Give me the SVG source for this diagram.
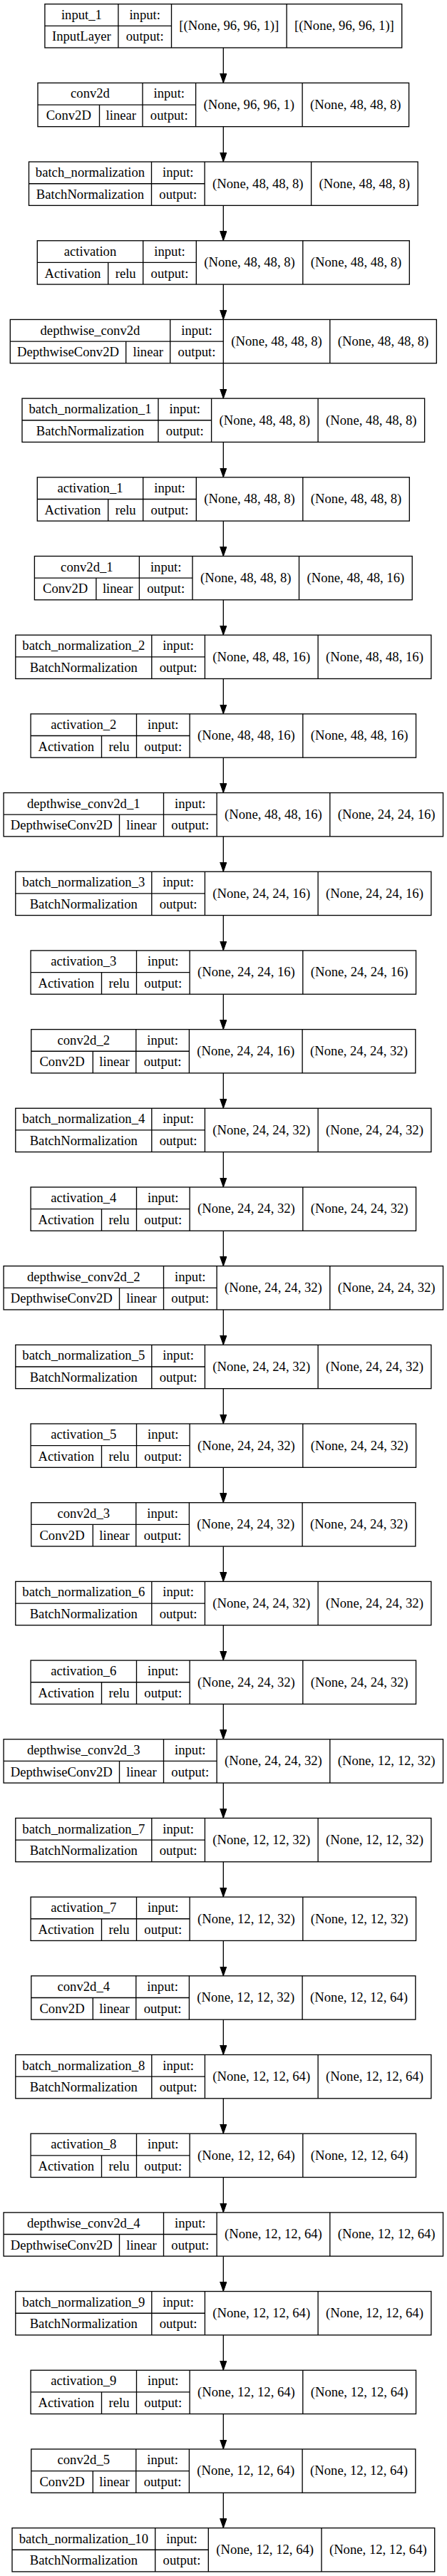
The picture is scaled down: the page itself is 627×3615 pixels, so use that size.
<svg xmlns="http://www.w3.org/2000/svg" xmlns:xlink="http://www.w3.org/1999/xlink" width="627" height="3615" viewBox="0 0 627 3615">
<style>
.b{fill:#fff;stroke:#000;stroke-width:1.33}
.l{fill:none;stroke:#000;stroke-width:1.33}
.e{fill:none;stroke:#000;stroke-width:1.33}
text{font-family:"Liberation Serif","Times New Roman",serif;font-size:18.67px;text-anchor:middle;fill:#000}
</style>
<defs>
<marker id="ah" markerUnits="userSpaceOnUse" markerWidth="14" markerHeight="10" refX="13.3" refY="4.67" orient="auto">
<path d="M0,0 L13.3,4.67 L0,9.33 z" fill="#000" stroke="#000" stroke-width="1"/>
</marker>
<path id="p_in" class="l" d="M103 0V61.3M177.6 0V61.3M339.2 0V61.3M0 30.65H177.6"/>
<path id="p_c11" class="l" d="M147 0V61.3M221.6 0V61.3M371.1 0V61.3M0 30.65H221.6M86.5 30.65V61.3"/>
<path id="p_c22" class="l" d="M147 0V61.3M221.6 0V61.3M380.3 0V61.3M0 30.65H221.6M86.5 30.65V61.3"/>
<path id="p_b0" class="l" d="M172 0V61.3M246.6 0V61.3M396.1 0V61.3M0 30.65H246.6"/>
<path id="p_b11" class="l" d="M191 0V61.3M265.6 0V61.3M415.1 0V61.3M0 30.65H265.6"/>
<path id="p_b22" class="l" d="M191 0V61.3M265.6 0V61.3M424.3 0V61.3M0 30.65H265.6"/>
<path id="p_b10" class="l" d="M200.7 0V61.3M275.3 0V61.3M434 0V61.3M0 30.65H275.3"/>
<path id="p_a11" class="l" d="M148.4 0V61.3M223 0V61.3M372.5 0V61.3M0 30.65H223M99.4 30.65V61.3"/>
<path id="p_a22" class="l" d="M148.4 0V61.3M223 0V61.3M381.7 0V61.3M0 30.65H223M99.4 30.65V61.3"/>
<path id="p_d11" class="l" d="M224.4 0V61.3M299 0V61.3M448.5 0V61.3M0 30.65H299M162.4 30.65V61.3"/>
<path id="p_d22" class="l" d="M224.4 0V61.3M299 0V61.3M457.7 0V61.3M0 30.65H299M162.4 30.65V61.3"/>
</defs>
<rect width="627" height="3615" fill="#fff"/>
<g id="edges">
<path class="e" marker-end="url(#ah)" d="M313.3 67V116.39"/>
<path class="e" marker-end="url(#ah)" d="M313.3 177.69V227.07"/>
<path class="e" marker-end="url(#ah)" d="M313.3 288.37V337.76"/>
<path class="e" marker-end="url(#ah)" d="M313.3 399.06V448.44"/>
<path class="e" marker-end="url(#ah)" d="M313.3 509.74V559.13"/>
<path class="e" marker-end="url(#ah)" d="M313.3 620.43V669.81"/>
<path class="e" marker-end="url(#ah)" d="M313.3 731.11V780.5"/>
<path class="e" marker-end="url(#ah)" d="M313.3 841.8V891.18"/>
<path class="e" marker-end="url(#ah)" d="M313.3 952.48V1001.87"/>
<path class="e" marker-end="url(#ah)" d="M313.3 1063.17V1112.55"/>
<path class="e" marker-end="url(#ah)" d="M313.3 1173.85V1223.24"/>
<path class="e" marker-end="url(#ah)" d="M313.3 1284.54V1333.92"/>
<path class="e" marker-end="url(#ah)" d="M313.3 1395.22V1444.61"/>
<path class="e" marker-end="url(#ah)" d="M313.3 1505.91V1555.29"/>
<path class="e" marker-end="url(#ah)" d="M313.3 1616.59V1665.98"/>
<path class="e" marker-end="url(#ah)" d="M313.3 1727.28V1776.66"/>
<path class="e" marker-end="url(#ah)" d="M313.3 1837.96V1887.35"/>
<path class="e" marker-end="url(#ah)" d="M313.3 1948.65V1998.03"/>
<path class="e" marker-end="url(#ah)" d="M313.3 2059.33V2108.72"/>
<path class="e" marker-end="url(#ah)" d="M313.3 2170.02V2219.4"/>
<path class="e" marker-end="url(#ah)" d="M313.3 2280.7V2330.09"/>
<path class="e" marker-end="url(#ah)" d="M313.3 2391.39V2440.77"/>
<path class="e" marker-end="url(#ah)" d="M313.3 2502.07V2551.46"/>
<path class="e" marker-end="url(#ah)" d="M313.3 2612.76V2662.14"/>
<path class="e" marker-end="url(#ah)" d="M313.3 2723.44V2772.83"/>
<path class="e" marker-end="url(#ah)" d="M313.3 2834.13V2883.51"/>
<path class="e" marker-end="url(#ah)" d="M313.3 2944.81V2994.2"/>
<path class="e" marker-end="url(#ah)" d="M313.3 3055.5V3104.88"/>
<path class="e" marker-end="url(#ah)" d="M313.3 3166.18V3215.57"/>
<path class="e" marker-end="url(#ah)" d="M313.3 3276.87V3326.25"/>
<path class="e" marker-end="url(#ah)" d="M313.3 3387.55V3436.94"/>
<path class="e" marker-end="url(#ah)" d="M313.3 3498.24V3547.62"/>
</g>

<g id="input_1" transform="translate(62.9,5.7)">
<rect class="b" width="500.8" height="61.3"/><use xlink:href="#p_in"/>
<text x="51.5" y="21.1">input_1</text><text x="51.5" y="51.8">InputLayer</text>
<text x="140.3" y="21.1">input:</text><text x="140.3" y="51.8">output:</text>
<text x="258.4" y="36.5">[(None, 96, 96, 1)]</text><text x="420" y="36.5">[(None, 96, 96, 1)]</text>
</g>

<g id="conv2d" transform="translate(53,116.39)">
<rect class="b" width="520.6" height="61.3"/><use xlink:href="#p_c11"/>
<text x="73.5" y="21.1">conv2d</text><text x="43.25" y="51.8">Conv2D</text><text x="116.75" y="51.8">linear</text>
<text x="184.3" y="21.1">input:</text><text x="184.3" y="51.8">output:</text>
<text x="296.35" y="36.5">(None, 96, 96, 1)</text><text x="445.85" y="36.5">(None, 48, 48, 8)</text>
</g>

<g id="batch_normalization" transform="translate(40.5,227.07)">
<rect class="b" width="545.6" height="61.3"/><use xlink:href="#p_b0"/>
<text x="86" y="21.1">batch_normalization</text><text x="86" y="51.8">BatchNormalization</text>
<text x="209.3" y="21.1">input:</text><text x="209.3" y="51.8">output:</text>
<text x="321.35" y="36.5">(None, 48, 48, 8)</text><text x="470.85" y="36.5">(None, 48, 48, 8)</text>
</g>

<g id="activation" transform="translate(52.3,337.76)">
<rect class="b" width="522" height="61.3"/><use xlink:href="#p_a11"/>
<text x="74.2" y="21.1">activation</text><text x="49.7" y="51.8">Activation</text><text x="123.9" y="51.8">relu</text>
<text x="185.7" y="21.1">input:</text><text x="185.7" y="51.8">output:</text>
<text x="297.75" y="36.5">(None, 48, 48, 8)</text><text x="447.25" y="36.5">(None, 48, 48, 8)</text>
</g>

<g id="depthwise_conv2d" transform="translate(14.3,448.44)">
<rect class="b" width="598" height="61.3"/><use xlink:href="#p_d11"/>
<text x="112.2" y="21.1">depthwise_conv2d</text><text x="81.2" y="51.8">DepthwiseConv2D</text><text x="193.4" y="51.8">linear</text>
<text x="261.7" y="21.1">input:</text><text x="261.7" y="51.8">output:</text>
<text x="373.75" y="36.5">(None, 48, 48, 8)</text><text x="523.25" y="36.5">(None, 48, 48, 8)</text>
</g>

<g id="batch_normalization_1" transform="translate(31,559.13)">
<rect class="b" width="564.6" height="61.3"/><use xlink:href="#p_b11"/>
<text x="95.5" y="21.1">batch_normalization_1</text><text x="95.5" y="51.8">BatchNormalization</text>
<text x="228.3" y="21.1">input:</text><text x="228.3" y="51.8">output:</text>
<text x="340.35" y="36.5">(None, 48, 48, 8)</text><text x="489.85" y="36.5">(None, 48, 48, 8)</text>
</g>

<g id="activation_1" transform="translate(52.3,669.81)">
<rect class="b" width="522" height="61.3"/><use xlink:href="#p_a11"/>
<text x="74.2" y="21.1">activation_1</text><text x="49.7" y="51.8">Activation</text><text x="123.9" y="51.8">relu</text>
<text x="185.7" y="21.1">input:</text><text x="185.7" y="51.8">output:</text>
<text x="297.75" y="36.5">(None, 48, 48, 8)</text><text x="447.25" y="36.5">(None, 48, 48, 8)</text>
</g>

<g id="conv2d_1" transform="translate(48.4,780.5)">
<rect class="b" width="529.8" height="61.3"/><use xlink:href="#p_c11"/>
<text x="73.5" y="21.1">conv2d_1</text><text x="43.25" y="51.8">Conv2D</text><text x="116.75" y="51.8">linear</text>
<text x="184.3" y="21.1">input:</text><text x="184.3" y="51.8">output:</text>
<text x="296.35" y="36.5">(None, 48, 48, 8)</text><text x="450.45" y="36.5">(None, 48, 48, 16)</text>
</g>

<g id="batch_normalization_2" transform="translate(21.8,891.18)">
<rect class="b" width="583" height="61.3"/><use xlink:href="#p_b22"/>
<text x="95.5" y="21.1">batch_normalization_2</text><text x="95.5" y="51.8">BatchNormalization</text>
<text x="228.3" y="21.1">input:</text><text x="228.3" y="51.8">output:</text>
<text x="344.95" y="36.5">(None, 48, 48, 16)</text><text x="503.65" y="36.5">(None, 48, 48, 16)</text>
</g>

<g id="activation_2" transform="translate(43.1,1001.87)">
<rect class="b" width="540.4" height="61.3"/><use xlink:href="#p_a22"/>
<text x="74.2" y="21.1">activation_2</text><text x="49.7" y="51.8">Activation</text><text x="123.9" y="51.8">relu</text>
<text x="185.7" y="21.1">input:</text><text x="185.7" y="51.8">output:</text>
<text x="302.35" y="36.5">(None, 48, 48, 16)</text><text x="461.05" y="36.5">(None, 48, 48, 16)</text>
</g>

<g id="depthwise_conv2d_1" transform="translate(5.1,1112.55)">
<rect class="b" width="616.4" height="61.3"/><use xlink:href="#p_d22"/>
<text x="112.2" y="21.1">depthwise_conv2d_1</text><text x="81.2" y="51.8">DepthwiseConv2D</text><text x="193.4" y="51.8">linear</text>
<text x="261.7" y="21.1">input:</text><text x="261.7" y="51.8">output:</text>
<text x="378.35" y="36.5">(None, 48, 48, 16)</text><text x="537.05" y="36.5">(None, 24, 24, 16)</text>
</g>

<g id="batch_normalization_3" transform="translate(21.8,1223.24)">
<rect class="b" width="583" height="61.3"/><use xlink:href="#p_b22"/>
<text x="95.5" y="21.1">batch_normalization_3</text><text x="95.5" y="51.8">BatchNormalization</text>
<text x="228.3" y="21.1">input:</text><text x="228.3" y="51.8">output:</text>
<text x="344.95" y="36.5">(None, 24, 24, 16)</text><text x="503.65" y="36.5">(None, 24, 24, 16)</text>
</g>

<g id="activation_3" transform="translate(43.1,1333.92)">
<rect class="b" width="540.4" height="61.3"/><use xlink:href="#p_a22"/>
<text x="74.2" y="21.1">activation_3</text><text x="49.7" y="51.8">Activation</text><text x="123.9" y="51.8">relu</text>
<text x="185.7" y="21.1">input:</text><text x="185.7" y="51.8">output:</text>
<text x="302.35" y="36.5">(None, 24, 24, 16)</text><text x="461.05" y="36.5">(None, 24, 24, 16)</text>
</g>

<g id="conv2d_2" transform="translate(43.8,1444.61)">
<rect class="b" width="539" height="61.3"/><use xlink:href="#p_c22"/>
<text x="73.5" y="21.1">conv2d_2</text><text x="43.25" y="51.8">Conv2D</text><text x="116.75" y="51.8">linear</text>
<text x="184.3" y="21.1">input:</text><text x="184.3" y="51.8">output:</text>
<text x="300.95" y="36.5">(None, 24, 24, 16)</text><text x="459.65" y="36.5">(None, 24, 24, 32)</text>
</g>

<g id="batch_normalization_4" transform="translate(21.8,1555.29)">
<rect class="b" width="583" height="61.3"/><use xlink:href="#p_b22"/>
<text x="95.5" y="21.1">batch_normalization_4</text><text x="95.5" y="51.8">BatchNormalization</text>
<text x="228.3" y="21.1">input:</text><text x="228.3" y="51.8">output:</text>
<text x="344.95" y="36.5">(None, 24, 24, 32)</text><text x="503.65" y="36.5">(None, 24, 24, 32)</text>
</g>

<g id="activation_4" transform="translate(43.1,1665.98)">
<rect class="b" width="540.4" height="61.3"/><use xlink:href="#p_a22"/>
<text x="74.2" y="21.1">activation_4</text><text x="49.7" y="51.8">Activation</text><text x="123.9" y="51.8">relu</text>
<text x="185.7" y="21.1">input:</text><text x="185.7" y="51.8">output:</text>
<text x="302.35" y="36.5">(None, 24, 24, 32)</text><text x="461.05" y="36.5">(None, 24, 24, 32)</text>
</g>

<g id="depthwise_conv2d_2" transform="translate(5.1,1776.66)">
<rect class="b" width="616.4" height="61.3"/><use xlink:href="#p_d22"/>
<text x="112.2" y="21.1">depthwise_conv2d_2</text><text x="81.2" y="51.8">DepthwiseConv2D</text><text x="193.4" y="51.8">linear</text>
<text x="261.7" y="21.1">input:</text><text x="261.7" y="51.8">output:</text>
<text x="378.35" y="36.5">(None, 24, 24, 32)</text><text x="537.05" y="36.5">(None, 24, 24, 32)</text>
</g>

<g id="batch_normalization_5" transform="translate(21.8,1887.35)">
<rect class="b" width="583" height="61.3"/><use xlink:href="#p_b22"/>
<text x="95.5" y="21.1">batch_normalization_5</text><text x="95.5" y="51.8">BatchNormalization</text>
<text x="228.3" y="21.1">input:</text><text x="228.3" y="51.8">output:</text>
<text x="344.95" y="36.5">(None, 24, 24, 32)</text><text x="503.65" y="36.5">(None, 24, 24, 32)</text>
</g>

<g id="activation_5" transform="translate(43.1,1998.03)">
<rect class="b" width="540.4" height="61.3"/><use xlink:href="#p_a22"/>
<text x="74.2" y="21.1">activation_5</text><text x="49.7" y="51.8">Activation</text><text x="123.9" y="51.8">relu</text>
<text x="185.7" y="21.1">input:</text><text x="185.7" y="51.8">output:</text>
<text x="302.35" y="36.5">(None, 24, 24, 32)</text><text x="461.05" y="36.5">(None, 24, 24, 32)</text>
</g>

<g id="conv2d_3" transform="translate(43.8,2108.72)">
<rect class="b" width="539" height="61.3"/><use xlink:href="#p_c22"/>
<text x="73.5" y="21.1">conv2d_3</text><text x="43.25" y="51.8">Conv2D</text><text x="116.75" y="51.8">linear</text>
<text x="184.3" y="21.1">input:</text><text x="184.3" y="51.8">output:</text>
<text x="300.95" y="36.5">(None, 24, 24, 32)</text><text x="459.65" y="36.5">(None, 24, 24, 32)</text>
</g>

<g id="batch_normalization_6" transform="translate(21.8,2219.4)">
<rect class="b" width="583" height="61.3"/><use xlink:href="#p_b22"/>
<text x="95.5" y="21.1">batch_normalization_6</text><text x="95.5" y="51.8">BatchNormalization</text>
<text x="228.3" y="21.1">input:</text><text x="228.3" y="51.8">output:</text>
<text x="344.95" y="36.5">(None, 24, 24, 32)</text><text x="503.65" y="36.5">(None, 24, 24, 32)</text>
</g>

<g id="activation_6" transform="translate(43.1,2330.09)">
<rect class="b" width="540.4" height="61.3"/><use xlink:href="#p_a22"/>
<text x="74.2" y="21.1">activation_6</text><text x="49.7" y="51.8">Activation</text><text x="123.9" y="51.8">relu</text>
<text x="185.7" y="21.1">input:</text><text x="185.7" y="51.8">output:</text>
<text x="302.35" y="36.5">(None, 24, 24, 32)</text><text x="461.05" y="36.5">(None, 24, 24, 32)</text>
</g>

<g id="depthwise_conv2d_3" transform="translate(5.1,2440.77)">
<rect class="b" width="616.4" height="61.3"/><use xlink:href="#p_d22"/>
<text x="112.2" y="21.1">depthwise_conv2d_3</text><text x="81.2" y="51.8">DepthwiseConv2D</text><text x="193.4" y="51.8">linear</text>
<text x="261.7" y="21.1">input:</text><text x="261.7" y="51.8">output:</text>
<text x="378.35" y="36.5">(None, 24, 24, 32)</text><text x="537.05" y="36.5">(None, 12, 12, 32)</text>
</g>

<g id="batch_normalization_7" transform="translate(21.8,2551.46)">
<rect class="b" width="583" height="61.3"/><use xlink:href="#p_b22"/>
<text x="95.5" y="21.1">batch_normalization_7</text><text x="95.5" y="51.8">BatchNormalization</text>
<text x="228.3" y="21.1">input:</text><text x="228.3" y="51.8">output:</text>
<text x="344.95" y="36.5">(None, 12, 12, 32)</text><text x="503.65" y="36.5">(None, 12, 12, 32)</text>
</g>

<g id="activation_7" transform="translate(43.1,2662.14)">
<rect class="b" width="540.4" height="61.3"/><use xlink:href="#p_a22"/>
<text x="74.2" y="21.1">activation_7</text><text x="49.7" y="51.8">Activation</text><text x="123.9" y="51.8">relu</text>
<text x="185.7" y="21.1">input:</text><text x="185.7" y="51.8">output:</text>
<text x="302.35" y="36.5">(None, 12, 12, 32)</text><text x="461.05" y="36.5">(None, 12, 12, 32)</text>
</g>

<g id="conv2d_4" transform="translate(43.8,2772.83)">
<rect class="b" width="539" height="61.3"/><use xlink:href="#p_c22"/>
<text x="73.5" y="21.1">conv2d_4</text><text x="43.25" y="51.8">Conv2D</text><text x="116.75" y="51.8">linear</text>
<text x="184.3" y="21.1">input:</text><text x="184.3" y="51.8">output:</text>
<text x="300.95" y="36.5">(None, 12, 12, 32)</text><text x="459.65" y="36.5">(None, 12, 12, 64)</text>
</g>

<g id="batch_normalization_8" transform="translate(21.8,2883.51)">
<rect class="b" width="583" height="61.3"/><use xlink:href="#p_b22"/>
<text x="95.5" y="21.1">batch_normalization_8</text><text x="95.5" y="51.8">BatchNormalization</text>
<text x="228.3" y="21.1">input:</text><text x="228.3" y="51.8">output:</text>
<text x="344.95" y="36.5">(None, 12, 12, 64)</text><text x="503.65" y="36.5">(None, 12, 12, 64)</text>
</g>

<g id="activation_8" transform="translate(43.1,2994.2)">
<rect class="b" width="540.4" height="61.3"/><use xlink:href="#p_a22"/>
<text x="74.2" y="21.1">activation_8</text><text x="49.7" y="51.8">Activation</text><text x="123.9" y="51.8">relu</text>
<text x="185.7" y="21.1">input:</text><text x="185.7" y="51.8">output:</text>
<text x="302.35" y="36.5">(None, 12, 12, 64)</text><text x="461.05" y="36.5">(None, 12, 12, 64)</text>
</g>

<g id="depthwise_conv2d_4" transform="translate(5.1,3104.88)">
<rect class="b" width="616.4" height="61.3"/><use xlink:href="#p_d22"/>
<text x="112.2" y="21.1">depthwise_conv2d_4</text><text x="81.2" y="51.8">DepthwiseConv2D</text><text x="193.4" y="51.8">linear</text>
<text x="261.7" y="21.1">input:</text><text x="261.7" y="51.8">output:</text>
<text x="378.35" y="36.5">(None, 12, 12, 64)</text><text x="537.05" y="36.5">(None, 12, 12, 64)</text>
</g>

<g id="batch_normalization_9" transform="translate(21.8,3215.57)">
<rect class="b" width="583" height="61.3"/><use xlink:href="#p_b22"/>
<text x="95.5" y="21.1">batch_normalization_9</text><text x="95.5" y="51.8">BatchNormalization</text>
<text x="228.3" y="21.1">input:</text><text x="228.3" y="51.8">output:</text>
<text x="344.95" y="36.5">(None, 12, 12, 64)</text><text x="503.65" y="36.5">(None, 12, 12, 64)</text>
</g>

<g id="activation_9" transform="translate(43.1,3326.25)">
<rect class="b" width="540.4" height="61.3"/><use xlink:href="#p_a22"/>
<text x="74.2" y="21.1">activation_9</text><text x="49.7" y="51.8">Activation</text><text x="123.9" y="51.8">relu</text>
<text x="185.7" y="21.1">input:</text><text x="185.7" y="51.8">output:</text>
<text x="302.35" y="36.5">(None, 12, 12, 64)</text><text x="461.05" y="36.5">(None, 12, 12, 64)</text>
</g>

<g id="conv2d_5" transform="translate(43.8,3436.94)">
<rect class="b" width="539" height="61.3"/><use xlink:href="#p_c22"/>
<text x="73.5" y="21.1">conv2d_5</text><text x="43.25" y="51.8">Conv2D</text><text x="116.75" y="51.8">linear</text>
<text x="184.3" y="21.1">input:</text><text x="184.3" y="51.8">output:</text>
<text x="300.95" y="36.5">(None, 12, 12, 64)</text><text x="459.65" y="36.5">(None, 12, 12, 64)</text>
</g>

<g id="batch_normalization_10" transform="translate(17,3547.62)">
<rect class="b" width="592.7" height="61.3"/><use xlink:href="#p_b10"/>
<text x="100.35" y="21.1">batch_normalization_10</text><text x="100.35" y="51.8">BatchNormalization</text>
<text x="238" y="21.1">input:</text><text x="238" y="51.8">output:</text>
<text x="354.65" y="36.5">(None, 12, 12, 64)</text><text x="513.35" y="36.5">(None, 12, 12, 64)</text>
</g>
</svg>
